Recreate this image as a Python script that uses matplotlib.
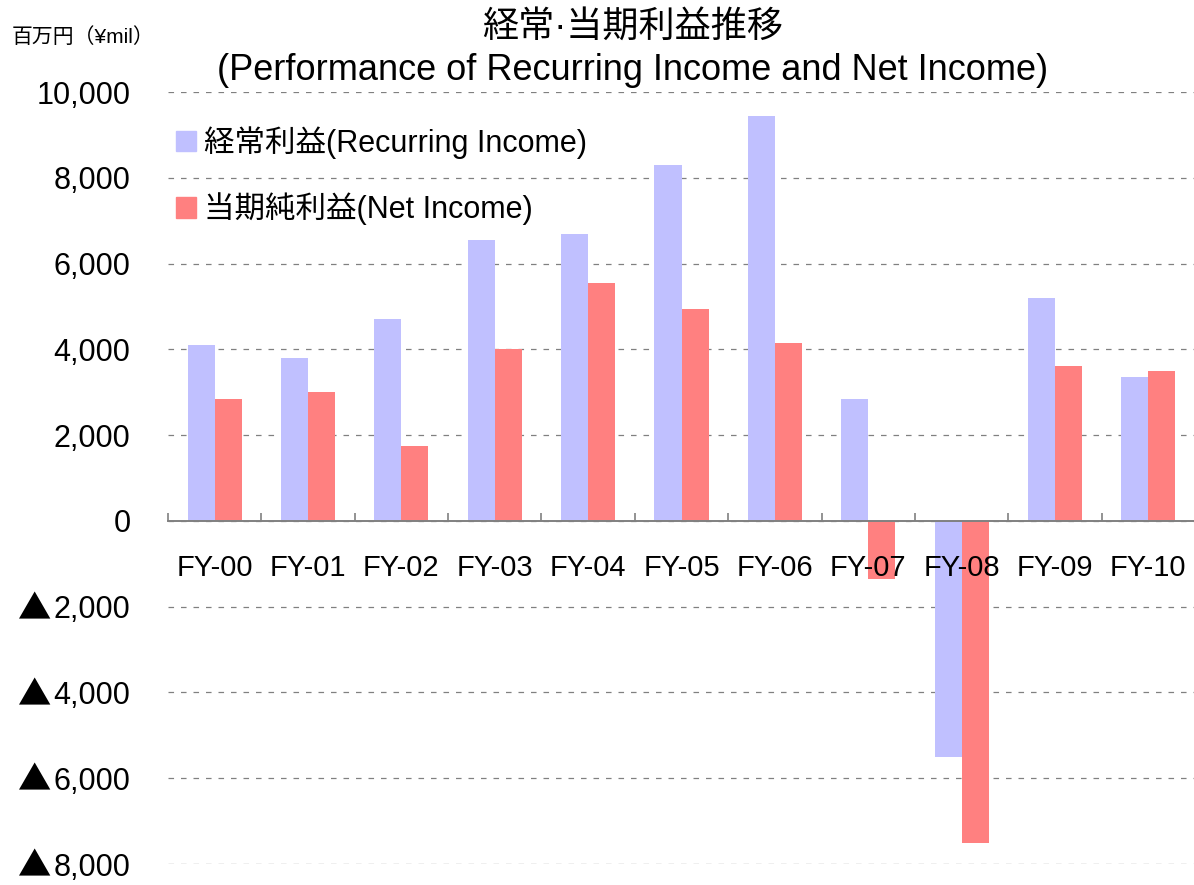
import matplotlib
matplotlib.use("Agg")
import matplotlib.pyplot as plt
import numpy as np
from matplotlib.ticker import FuncFormatter, MultipleLocator
from matplotlib.patches import Patch
import matplotlib.transforms as mtransforms

plt.rcParams['font.family'] = ['Liberation Sans', 'Noto Sans CJK JP', 'DejaVu Sans']
plt.rcParams['lines.scale_dashes'] = False

categories = ["FY-00", "FY-01", "FY-02", "FY-03", "FY-04", "FY-05",
              "FY-06", "FY-07", "FY-08", "FY-09", "FY-10"]
recurring = [4100, 3800, 4700, 6550, 6700, 8300, 9450, 2850, -5500, 5200, 3350]
net_income = [2850, 3000, 1750, 4000, 5550, 4950, 4150, -1350, -7500, 3600, 3500]
series_labels = ["経常利益(Recurring Income)", "当期純利益(Net Income)"]
title = "経常·当期利益推移"
subtitle = "(Performance of Recurring Income and Net Income)"
unit_label = "百万円（¥mil）"

col_rec = "#C0C0FF"
col_net = "#FF8080"

fig = plt.figure(figsize=(11.94, 8.85), dpi=100)
ax = fig.add_axes([168/1194, 1-864/885, (1195-168)/1194, (864-92)/885])

x = np.arange(len(categories))
w = 0.29
ax.bar(x - w/2, recurring, width=w, color=col_rec, zorder=3, label=series_labels[0])
ax.bar(x + w/2, net_income, width=w, color=col_net, zorder=3, label=series_labels[1])

ax.set_xlim(-0.5, len(categories) - 0.5)
ax.set_ylim(-8000, 10000)
ax.yaxis.set_major_locator(MultipleLocator(2000))

def fmt(v, pos):
    v = int(round(v))
    return "{:,}".format(abs(v))

ax.yaxis.set_major_formatter(FuncFormatter(fmt))
ax.grid(axis='y', color='#808080', linestyle=(0, (4, 5)), linewidth=0.9)
ax.yaxis.set_zorder(1)
ax.xaxis.set_zorder(5)

for s in ['top', 'right', 'left']:
    ax.spines[s].set_visible(False)
ax.spines['bottom'].set_position(('data', 0))
ax.spines['bottom'].set_color('#808080')
ax.spines['bottom'].set_linewidth(1.4)
ax.spines['bottom'].set_zorder(4)

# category boundary ticks pointing upward
ax.set_xticks(np.arange(-0.5, len(categories) + 0.5, 1.0))
ax.set_xticklabels([])
ax.tick_params(axis='x', which='major', direction='in', length=6, width=1.2, color='#808080')
ax.set_xticks(x, minor=True)
ax.set_xticklabels(categories, minor=True, fontsize=21)
ax.tick_params(axis='x', which='minor', length=0, pad=24)

ax.tick_params(axis='y', length=0, labelsize=22, pad=27)

# negative marker triangles for negative ticks
trans = mtransforms.blended_transform_factory(fig.transFigure, ax.transData)
trans = trans + mtransforms.ScaledTranslation(0, -3/100, fig.dpi_scale_trans)
for t in ax.get_yticks():
    if t < 0:
        ax.text(51/1194, t, "▲", transform=trans, ha='right', va='center',
                fontsize=24, family=['Noto Sans CJK JP'], clip_on=False)

fig.text(633/1194, 1-27/885, title, ha='center', va='center', fontsize=26)
fig.text(633/1194, 1-70/885, subtitle, ha='center', va='center', fontsize=26)
fig.text(12/1194, 1-37/885, unit_label, ha='left', va='center', fontsize=15)

handles = [Patch(color=col_rec), Patch(color=col_net)]
ax.legend(handles, series_labels, loc='upper left',
          bbox_to_anchor=(176/1194, 1-126/885), bbox_transform=fig.transFigure,
          frameon=False, fontsize=22, handlelength=0.66, handleheight=0.66,
          handletextpad=0.26, labelspacing=1.1, borderaxespad=0, borderpad=0)

fig.savefig("out.png", dpi=100)
